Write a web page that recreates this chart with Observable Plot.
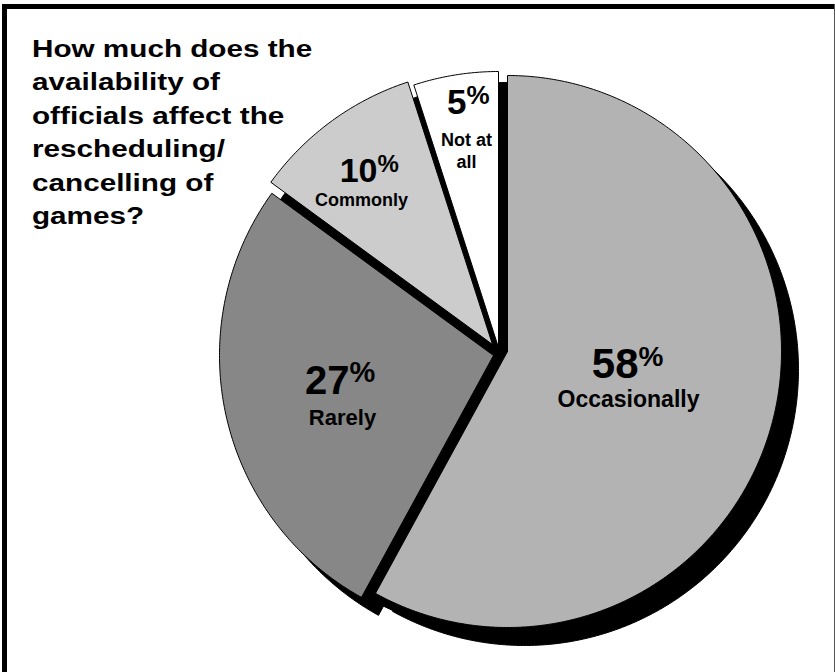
<!DOCTYPE html>
<html>
<head>
<meta charset="utf-8">
<script src="https://cdn.jsdelivr.net/npm/d3@7"></script>
<script src="https://cdn.jsdelivr.net/npm/@observablehq/plot@0.6"></script>
<style>
  html, body { margin: 0; padding: 0; background: #fff; }
  #wrap { position: relative; width: 835px; height: 672px; overflow: hidden; background: #fff; }
  #wrap svg { position: absolute; left: 0; top: 0; }
  .bt { position: absolute; left: 2px; top: 4px; width: 832px; height: 5px; background: #000; }
  .bl { position: absolute; left: 2px; top: 4px; width: 5px; height: 668px; background: #000; }
  .br { position: absolute; left: 834px; top: 4px; width: 1px; height: 668px; background: #555; }
  #title { position: absolute; left: 32px; top: 33px; font-family: "Liberation Sans", Arial, sans-serif;
           font-weight: bold; font-size: 23px; line-height: 33.4px; color: #000; white-space: pre;
           transform: scaleX(1.29); transform-origin: 0 0; }
</style>
</head>
<body>
<div id="wrap">
  <div id="title">How much does the
availability of
officials affect the
rescheduling/
cancelling of
games?</div>
</div>
<script>
// ---- data ----
const categories = ["Occasionally", "Rarely", "Commonly", "Not at all"];
const values = [58, 27, 10, 5];
const nameLines = [["Occasionally"], ["Rarely"], ["Commonly"], ["Not at", "all"]];

// ---- layout / style ----
const W = 835, H = 672;
const CX = 498, CY = 352, RX = 274, RY = 276;
const SDX = 17, SDY = 18;          // drop shadow of each slice
const GAPX = 6, GAPY = 6;          // shadow of the whole (unexploded) pie, seen in the gaps
const offsets = [[9, -1], [-5, 3], [-6, -8], [0, -5]]; // explode offset of each slice
const fills = ["#b3b3b3", "#878787", "#cccccc", "#ffffff"];
const labelLayout = [
  {x: 638, y: 377, num: 42, pct: 28, name: 23, nameY: [406], nameX: 628},
  {x: 349, y: 393, num: 40, pct: 29, name: 22, nameY: [424], nameX: 342},
  {x: 377, y: 181, num: 34, pct: 24, name: 18, nameY: [205], nameX: 361},
  {x: 466, y: 113, num: 35, pct: 26, name: 18, nameY: [145, 167], nameX: 466}
];

const arcs = d3.pie().sort(null).value(d => d)(values);
function slicePoints(a, i, ox, oy) {
  const pts = [{x: ox, y: oy}];
  const n = Math.max(4, Math.ceil((a.endAngle - a.startAngle) / 0.01));
  for (let k = 0; k <= n; ++k) {
    const t = a.startAngle + (a.endAngle - a.startAngle) * k / n;
    pts.push({x: ox + RX * Math.sin(t), y: oy - RY * Math.cos(t)});
  }
  pts.push({x: ox, y: oy});
  return pts.map(p => ({...p, cat: categories[i]}));
}
const slices = arcs.map((a, i) => slicePoints(a, i, CX + offsets[i][0], CY + offsets[i][1]));
const whole = arcs.map((a, i) => slicePoints(a, i, CX + GAPX, CY + GAPY));

const FONT = "'Liberation Sans', Arial, sans-serif";
const numData = values.map((v, i) => ({...labelLayout[i], t: String(v)}));
const nameData = [];
nameLines.forEach((lines, i) => lines.forEach((t, j) =>
  nameData.push({t, x: labelLayout[i].nameX, y: labelLayout[i].nameY[j], size: labelLayout[i].name})));

const marks = [];
whole.forEach(s => marks.push(Plot.line(s, {x: "x", y: "y", fill: "#000", stroke: "#000", strokeWidth: 1})));
slices.forEach(s => marks.push(Plot.line(s, {x: d => d.x + SDX, y: d => d.y + SDY, fill: "#000", stroke: "#000", strokeWidth: 1})));
slices.forEach((s, i) => marks.push(Plot.line(s, {x: "x", y: "y", fill: fills[i], stroke: "#000", strokeWidth: 1})));
numData.forEach(d => {
  marks.push(Plot.text([d], {x: "x", y: "y", text: "t", textAnchor: "end", lineAnchor: "bottom",
    fontSize: d.num, fontWeight: "bold", fontFamily: FONT, fill: "#000"}));
  marks.push(Plot.text([d], {x: "x", y: dd => dd.y - dd.num * 0.28, text: () => "%", textAnchor: "start", lineAnchor: "bottom",
    fontSize: d.pct, fontWeight: "bold", fontFamily: FONT, fill: "#000"}));
});
nameData.forEach(d => marks.push(Plot.text([d], {x: "x", y: "y", text: "t", textAnchor: "middle", lineAnchor: "bottom",
  fontSize: d.size, fontWeight: "bold", fontFamily: FONT, fill: "#000"})));

const chart = Plot.plot({
  width: W, height: H, margin: 0,
  x: {domain: [0, W], range: [0, W], axis: null},
  y: {domain: [0, H], range: [0, H], axis: null},
  style: {background: "transparent", overflow: "visible"},
  marks
});
const wrap = document.getElementById("wrap");
wrap.insertBefore(chart, wrap.firstChild);
["bt", "bl", "br"].forEach(c => { const e = document.createElement("div"); e.className = c; wrap.appendChild(e); });
</script>
</body>
</html>
